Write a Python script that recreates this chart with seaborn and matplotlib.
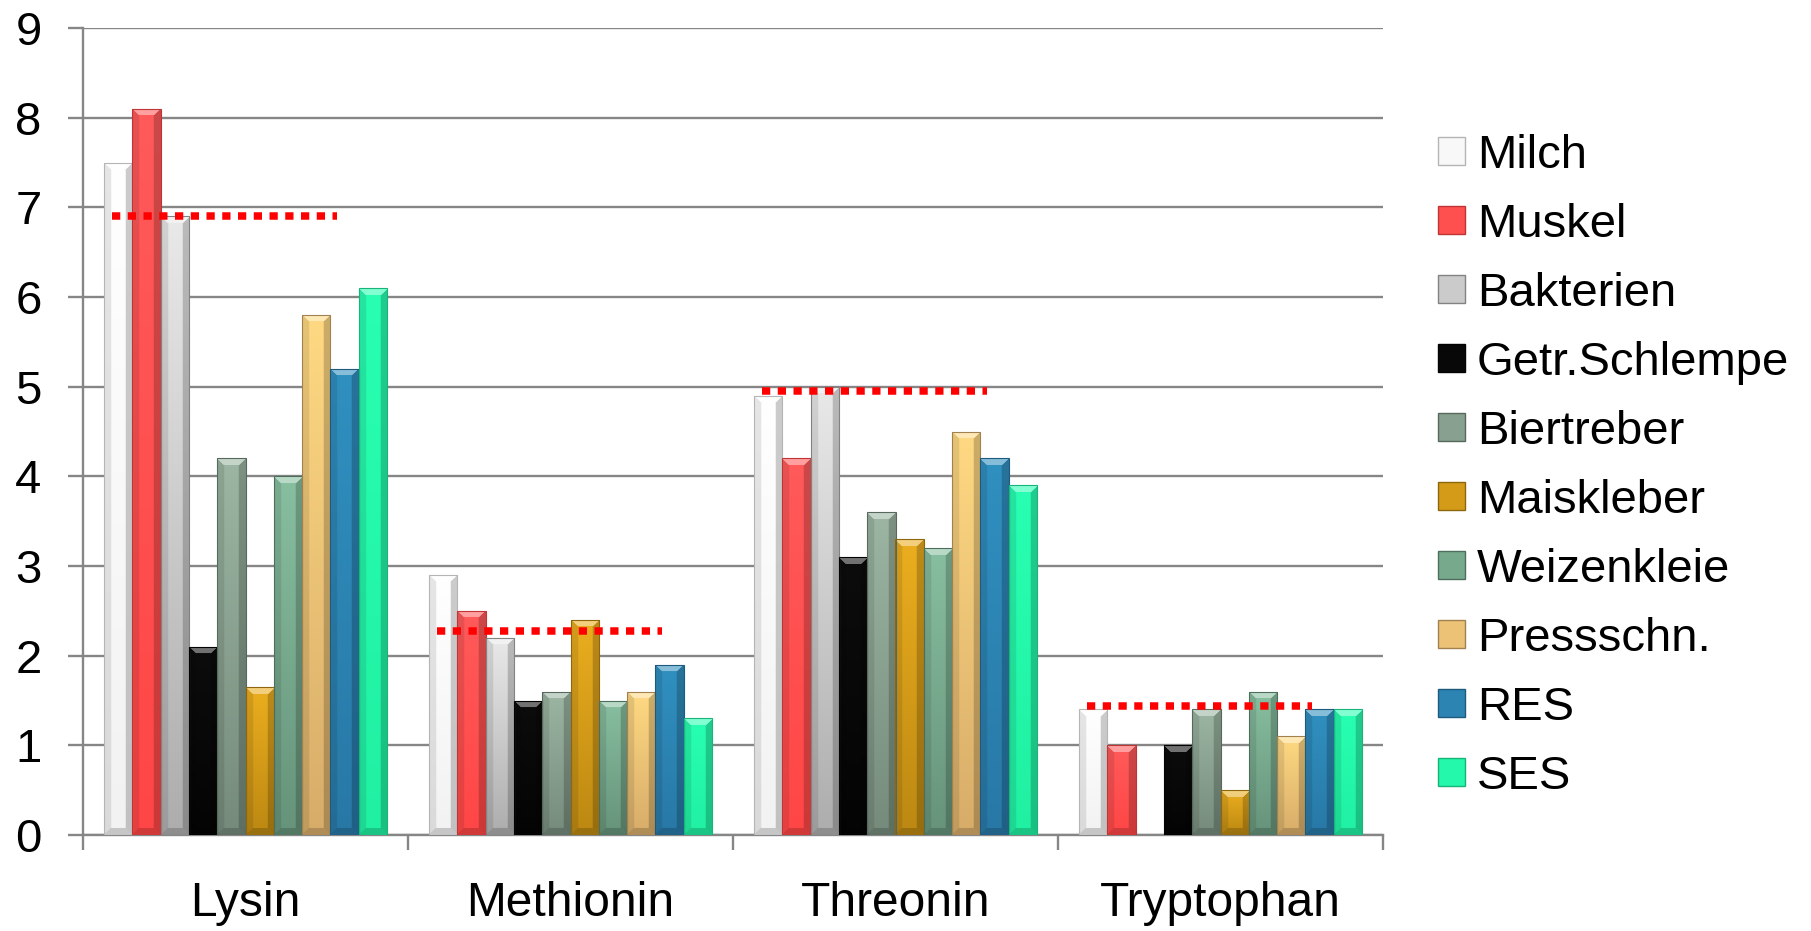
import numpy as np
import pandas as pd
import matplotlib
matplotlib.use("Agg")
import matplotlib.pyplot as plt
import matplotlib.colors as mcolors
from matplotlib.patches import Patch
import seaborn as sns

# Aminosäuregehalte je Futtermittel (g je 100 g Protein)
aminosaeuren = ["Lysin", "Methionin", "Threonin", "Tryptophan"]
futtermittel = ["Milch", "Muskel", "Bakterien", "Getr.Schlempe", "Biertreber",
                "Maiskleber", "Weizenkleie", "Pressschn.", "RES", "SES"]

milch = [7.5, 2.9, 4.9, 1.4]
muskel = [8.1, 2.5, 4.2, 1.0]
bakterien = [6.9, 2.2, 5.0, 0.0]
getr_schlempe = [2.1, 1.5, 3.1, 1.0]
biertreber = [4.2, 1.6, 3.6, 1.4]
maiskleber = [1.65, 2.4, 3.3, 0.5]
weizenkleie = [4.0, 1.5, 3.2, 1.6]
pressschn = [5.8, 1.6, 4.5, 1.1]
res = [5.2, 1.9, 4.2, 1.4]
ses = [6.1, 1.3, 3.9, 1.4]

# Bedarfswerte (rot gepunktet)
bedarf = [6.9, 2.28, 4.95, 1.44]

yticks = list(range(0, 10))

werte = [milch, muskel, bakterien, getr_schlempe, biertreber,
         maiskleber, weizenkleie, pressschn, res, ses]

# Farbverlauf je Serie: oben, unten
farben = {
    "Milch": ("#FFFFFF", "#F2F2F2"),
    "Muskel": ("#FF5A5A", "#FF4646"),
    "Bakterien": ("#E9E9E9", "#ADADAD"),
    "Getr.Schlempe": ("#0C0C0C", "#040404"),
    "Biertreber": ("#9CB6A3", "#758A7B"),
    "Maiskleber": ("#EBAE1F", "#BC8812"),
    "Weizenkleie": ("#88BFA0", "#66937A"),
    "Pressschn.": ("#FFD982", "#D7AC69"),
    "RES": ("#3090C0", "#2878A6"),
    "SES": ("#28FFB2", "#20F0A2"),
}

rows = []
for name, vals in zip(futtermittel, werte):
    for aa, v in zip(aminosaeuren, vals):
        rows.append({"Aminosäure": aa, "Futtermittel": name, "Wert": v})
df = pd.DataFrame(rows)

sns.set_theme(style="white")
plt.rcParams["font.family"] = ["Liberation Sans", "DejaVu Sans"]
plt.rcParams["text.color"] = "black"

W, H = 1811, 931
fig = plt.figure(figsize=(W / 100, H / 100), dpi=100)
ax = fig.add_axes([83 / W, 1 - 835 / H, 1300 / W, 807 / H])

grau = "#868686"
palette = {k: mcolors.to_hex(np.mean([mcolors.to_rgb(c) for c in v], axis=0))
           for k, v in farben.items()}

sns.barplot(data=df, x="Aminosäure", y="Wert", hue="Futtermittel",
            hue_order=futtermittel, order=aminosaeuren, palette=palette,
            width=0.87, errorbar=None, legend=False, ax=ax, zorder=3,
            saturation=1.0)

ax.set_xlim(-0.5, len(aminosaeuren) - 0.5)
ax.set_ylim(0, 9)
fig.canvas.draw()


def facettierte_flaeche(top, bottom, nx, ny, b):
    top = np.array(mcolors.to_rgb(top))
    bottom = np.array(mcolors.to_rgb(bottom))
    img = np.zeros((ny, nx, 3))
    for i in range(ny):
        t = i / max(ny - 1, 1)
        base = top * (1 - t) + bottom * t
        for j in range(nx):
            dl, dr, dt, db = j, nx - 1 - j, i, ny - 1 - i
            d = min(dl, dr, dt, db)
            c = base.copy()
            if d < b:
                if d == dt:
                    c = c + (1 - c) * 0.42
                elif d == db:
                    c = c * 0.82
                elif d == dl:
                    c = c * 0.9
                else:
                    c = c * 0.8
            img[i, j] = c
    return np.clip(img, 0, 1)


for name, cont in zip(futtermittel, ax.containers):
    top, bottom = farben[name]
    edge = np.array(mcolors.to_rgb(bottom)) * 0.75
    for rect in cont:
        h = rect.get_height()
        if not np.isfinite(h) or h <= 0:
            rect.set_visible(False)
            continue
        x0, w = rect.get_x(), rect.get_width()
        p0 = ax.transData.transform((x0, 0))
        p1 = ax.transData.transform((x0 + w, h))
        nx = max(int(round(p1[0] - p0[0])), 2)
        ny = max(int(round(p1[1] - p0[1])), 2)
        img = facettierte_flaeche(top, bottom, nx, ny, 7)
        im = ax.imshow(img, extent=(x0, x0 + w, 0, h), origin="upper",
                       aspect="auto", interpolation="bilinear", zorder=3.5)
        im.set_clip_path(rect)
        rect.set_edgecolor(edge)
        rect.set_linewidth(0.8)
        rect.set_facecolor("none")
        rect.set_zorder(3.6)

# Bedarfslinien
for i, v in enumerate(bedarf):
    ax.plot([i - 0.41, i + 0.28], [v, v], color="#FF0000", lw=5.4,
            linestyle=(0, (1.1, 1.0)), dash_capstyle="butt", zorder=5)

ax.set_xlim(-0.5, len(aminosaeuren) - 0.5)
ax.set_ylim(0, 9)
ax.set_yticks(yticks)
ax.set_yticklabels([str(t) for t in yticks])
ax.yaxis.grid(True, color=grau, lw=1.7, zorder=0)
ax.xaxis.grid(False)
ax.set_axisbelow(True)

ax.set_xticks(range(len(aminosaeuren)))
ax.set_xticklabels(aminosaeuren)
ax.set_xticks([i - 0.5 for i in range(len(aminosaeuren) + 1)], minor=True)
ax.tick_params(axis="x", which="major", length=0, pad=33, labelsize=34.5,
               labelcolor="black")
ax.tick_params(axis="x", which="minor", length=10.5, width=1.7, color=grau,
               direction="out", bottom=True)
ax.tick_params(axis="y", which="major", length=10.8, width=1.7, color=grau,
               direction="out", left=True, pad=19, labelsize=34,
               labelcolor="black")
ax.set_xlabel("")
ax.set_ylabel("")

for s in ["top", "right"]:
    ax.spines[s].set_visible(False)
for s in ["left", "bottom"]:
    ax.spines[s].set_color(grau)
    ax.spines[s].set_linewidth(1.7)

handles = []
for name in futtermittel:
    top, bottom = farben[name]
    edge = np.array(mcolors.to_rgb(bottom)) * 0.75
    handles.append(Patch(facecolor=palette[name], edgecolor=edge, lw=1.0,
                         label=name))

leg = fig.legend(handles=handles, loc="center left",
                 bbox_to_anchor=(1438 / W, 1 - 466.5 / H), frameon=False,
                 fontsize=34, handlelength=0.57, handleheight=0.53,
                 handletextpad=0.25, labelspacing=0.53, borderpad=0,
                 borderaxespad=0)
for t in leg.get_texts():
    t.set_color("black")

fig.savefig("out.png", dpi=100, facecolor="white")
